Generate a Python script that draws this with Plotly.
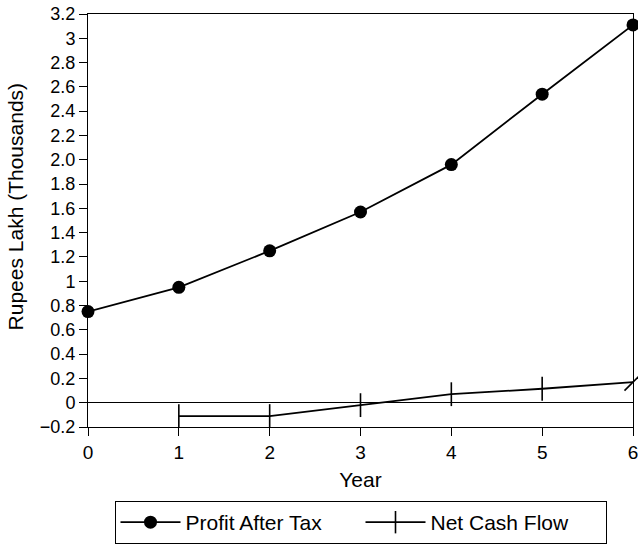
import plotly.graph_objects as go

# Yearly figures, in thousands of rupees lakh
years = [0, 1, 2, 3, 4, 5, 6]
profit_after_tax = [0.75, 0.95, 1.25, 1.57, 1.96, 2.54, 3.11]

cash_years = [1, 2, 3, 4, 5, 6]
net_cash_flow = [-0.11, -0.11, -0.02, 0.07, 0.115, 0.17]

y_tick_vals = [-0.2, 0, 0.2, 0.4, 0.6, 0.8, 1.0, 1.2, 1.4, 1.6, 1.8,
               2.0, 2.2, 2.4, 2.6, 2.8, 3.0, 3.2]
y_tick_text = ["\u22120.2", "0", "0.2", "0.4", "0.6", "0.8", "1", "1.2", "1.4",
               "1.6", "1.8", "2.0", "2.2", "2.4", "2.6", "2.8", "3", "3.2"]

FONT = "Liberation Sans, Arial, Helvetica, sans-serif"

fig = go.Figure()

fig.add_trace(go.Scatter(
    x=years, y=profit_after_tax, name="Profit After Tax",
    mode="lines+markers",
    line=dict(color="black", width=1.8),
    marker=dict(symbol="circle", size=13, color="black"),
    cliponaxis=False,
))

fig.add_trace(go.Scatter(
    x=cash_years, y=net_cash_flow, name="Net Cash Flow",
    mode="lines+markers",
    line=dict(color="black", width=1.8),
    marker=dict(symbol=["line-ns"] * 5 + ["line-ne"], size=17,
                line=dict(color="black", width=1.6)),
    cliponaxis=False,
))

# Vertical axis caption, placed as a rotated annotation
fig.add_annotation(
    text="Rupees Lakh (Thousands)", textangle=-90,
    xref="paper", yref="paper", x=-0.134, y=0.534,
    xanchor="center", yanchor="middle", showarrow=False,
    font=dict(size=21),
)

fig.update_layout(
    width=638, height=544,
    margin=dict(l=88, r=5, t=14, b=117, autoexpand=False),
    paper_bgcolor="white", plot_bgcolor="white",
    font=dict(family=FONT, size=19, color="black"),
    showlegend=True,
    legend=dict(
        orientation="h", x=0.5, xanchor="center",
        yref="container", y=0.079, yanchor="top",
        bordercolor="black", borderwidth=1,
        font=dict(size=21), entrywidth=170, itemwidth=60,
    ),
    xaxis=dict(
        range=[0, 6], tickmode="array", tickvals=years,
        ticks="outside", ticklen=8, tickwidth=1, tickcolor="black",
        showline=True, linecolor="black", linewidth=1, mirror=True,
        showgrid=False, zeroline=False, ticklabeloverflow="allow",
        title=dict(text="Year", standoff=10, font=dict(size=21)),
        tickfont=dict(size=19),
    ),
    yaxis=dict(
        range=[-0.2, 3.2], tickmode="array",
        tickvals=y_tick_vals, ticktext=y_tick_text,
        ticks="outside", ticklen=8, tickwidth=1, tickcolor="black",
        showline=True, linecolor="black", linewidth=1, mirror=True,
        showgrid=False,
        zeroline=True, zerolinecolor="black", zerolinewidth=1,
        tickfont=dict(size=18),
    ),
)

fig.write_html("out.html")
